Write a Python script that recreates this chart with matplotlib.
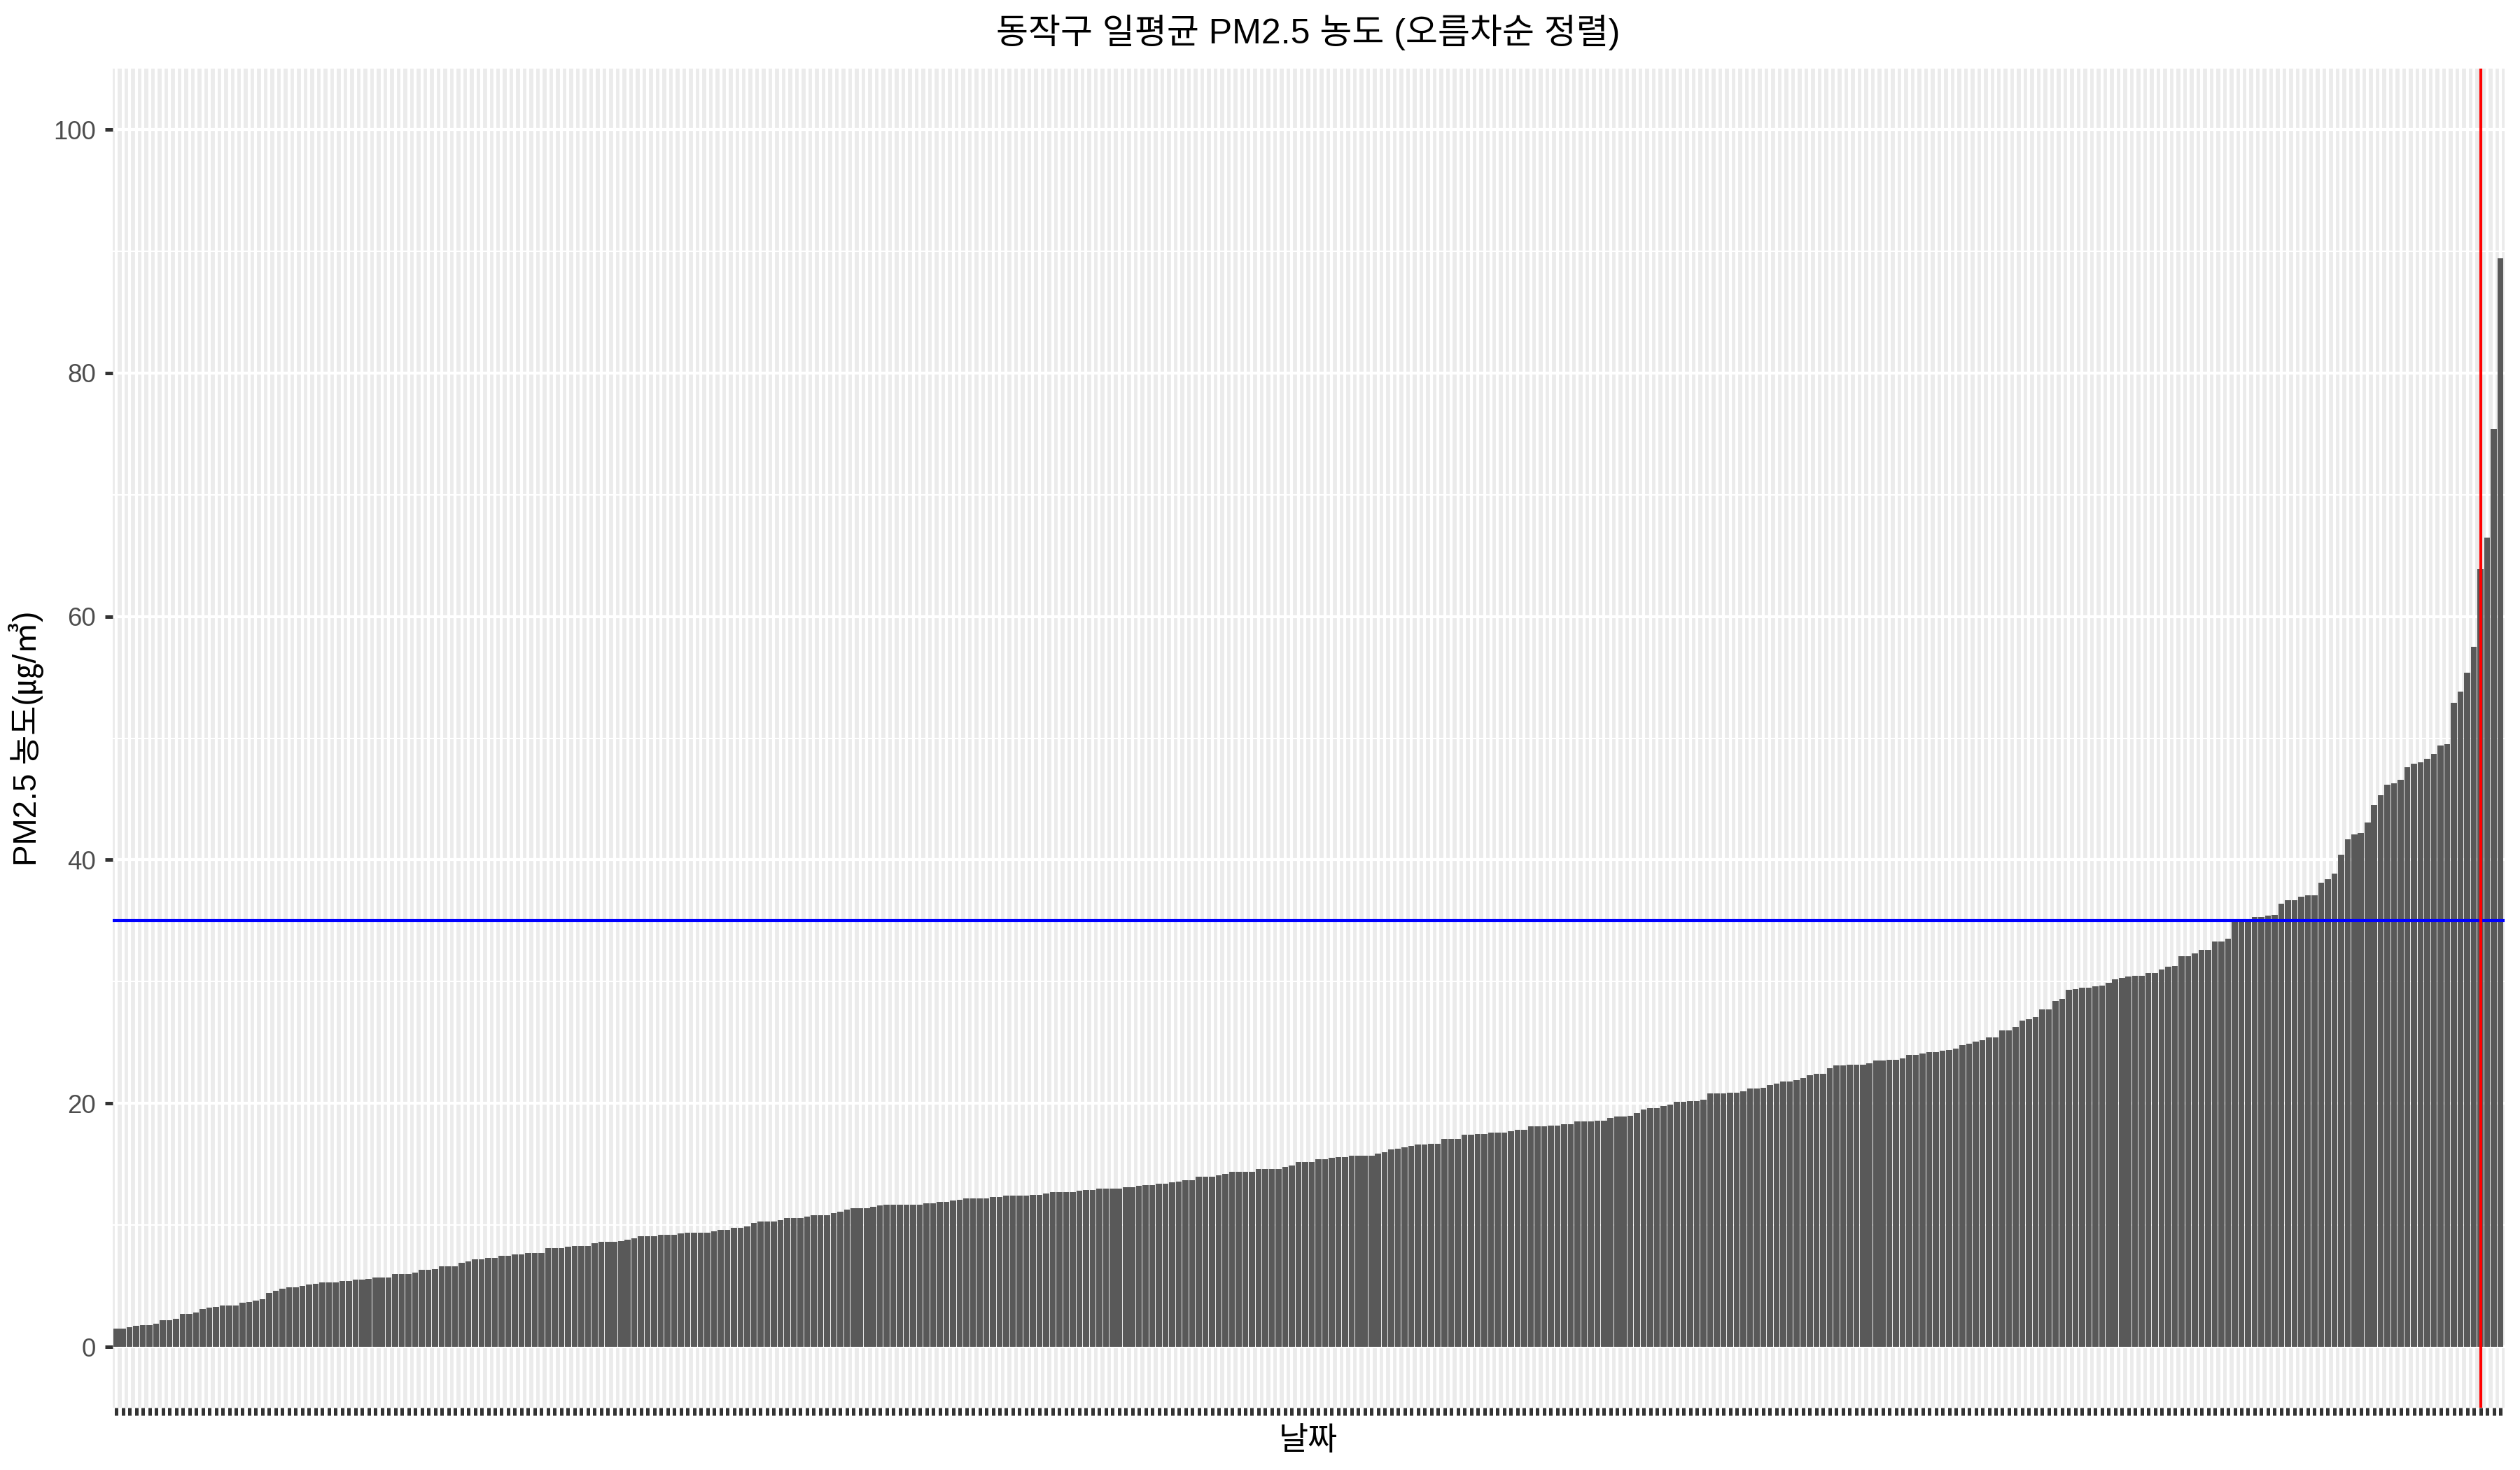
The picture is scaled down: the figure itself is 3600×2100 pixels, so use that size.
import matplotlib
matplotlib.use('Agg')
import matplotlib.pyplot as plt
import numpy as np

plt.rcParams['font.family'] = ['Liberation Sans', 'Noto Sans CJK KR', 'DejaVu Sans']

# daily mean PM2.5 (ug/m3), sorted ascending
pm25_sorted = [
    1.5, 1.5, 1.6, 1.7, 1.8, 1.8, 1.9, 2.2, 2.2, 2.3, 2.7, 2.7, 2.8, 3.1, 3.2, 3.3,
    3.4, 3.4, 3.4, 3.6, 3.7, 3.8, 3.9, 4.4, 4.6, 4.8, 4.9, 4.9, 5.0, 5.1, 5.2, 5.3,
    5.3, 5.3, 5.4, 5.4, 5.5, 5.5, 5.6, 5.7, 5.7, 5.7, 6.0, 6.0, 6.0, 6.1,
    6.3, 6.3, 6.4, 6.6, 6.6, 6.6, 6.9, 7.0, 7.2, 7.2, 7.3, 7.3, 7.5, 7.5, 7.6, 7.6,
    7.7, 7.7, 7.7, 8.1, 8.1, 8.1, 8.2, 8.3, 8.3, 8.3, 8.5, 8.6, 8.6, 8.6, 8.7, 8.8,
    8.9, 9.1, 9.1, 9.1, 9.2, 9.2, 9.2, 9.3, 9.4, 9.4, 9.4, 9.4,
    9.5, 9.6, 9.6, 9.8, 9.8, 9.9, 10.2, 10.3, 10.3, 10.3, 10.4, 10.6, 10.6, 10.6,
    10.7, 10.8, 10.8, 10.8, 11.0, 11.1, 11.3, 11.4, 11.4, 11.4, 11.5, 11.6, 11.7,
    11.7, 11.7, 11.7, 11.7, 11.7, 11.8, 11.8, 11.9, 11.9, 12.0, 12.1, 12.2, 12.2,
    12.2, 12.2, 12.3, 12.3, 12.4, 12.4,
    12.4, 12.4, 12.5, 12.5, 12.6, 12.7, 12.7, 12.7, 12.7, 12.8, 12.9, 12.9, 13.0,
    13.0, 13.0, 13.0, 13.1, 13.1, 13.2, 13.3, 13.3, 13.4, 13.4, 13.5, 13.6, 13.7,
    13.7, 14.0, 14.0, 14.0, 14.1, 14.2, 14.4, 14.4, 14.4, 14.4, 14.6, 14.6, 14.6,
    14.6, 14.8, 14.9, 15.2, 15.2, 15.2,
    15.4, 15.4, 15.5, 15.6, 15.6, 15.7, 15.7, 15.7, 15.7, 15.9, 16.0, 16.2, 16.3,
    16.4, 16.5, 16.6, 16.6, 16.7, 16.7, 17.1, 17.1, 17.1, 17.4, 17.4, 17.5, 17.5,
    17.6, 17.6, 17.6, 17.7, 17.8, 17.8, 18.1, 18.1, 18.1, 18.2, 18.2, 18.3, 18.3,
    18.5, 18.5, 18.5, 18.6, 18.6, 18.8, 18.9,
    18.9, 19.0, 19.2, 19.5, 19.6, 19.6, 19.8, 19.9, 20.1, 20.1, 20.2, 20.2, 20.3,
    20.8, 20.8, 20.8, 20.9, 20.9, 21.0, 21.2, 21.2, 21.3, 21.5, 21.6, 21.8, 21.8,
    21.9, 22.1, 22.3, 22.4, 22.4, 22.9, 23.1, 23.1, 23.2, 23.2, 23.2, 23.3, 23.5,
    23.5, 23.6, 23.6, 23.7, 24.0, 24.0,
    24.1, 24.2, 24.2, 24.3, 24.4, 24.5, 24.8, 24.9, 25.1, 25.2, 25.4, 25.4, 26.0,
    26.0, 26.3, 26.8, 26.9, 27.1, 27.7, 27.7, 28.4, 28.6, 29.3, 29.4, 29.5, 29.5,
    29.6, 29.7, 29.9, 30.2, 30.3, 30.4, 30.5, 30.5, 30.7, 30.7, 31.0, 31.2, 31.3,
    32.1, 32.1, 32.3, 32.6, 32.6,
    33.3, 33.3, 33.5, 35.0, 35.0, 35.1, 35.3, 35.3, 35.4, 35.5, 36.4, 36.7, 36.7,
    37.0, 37.1, 37.1, 38.1, 38.4, 38.9, 40.4, 41.7, 42.1, 42.2, 43.1, 44.5, 45.3,
    46.2, 46.3, 46.6, 47.6, 47.9, 48.0, 48.3, 48.7, 49.4, 49.5, 52.9, 53.8, 55.4,
    57.5, 63.9, 66.5, 75.4, 89.4,
]
standard = 35          # blue reference line
marker_rank = 357      # red vertical line (rank position)
y_ticks = [0, 20, 40, 60, 80, 100]
y_minor = [10, 30, 50, 70, 90]

title = '동작구 일평균 PM2.5 농도 (오름차순 정렬)'
x_title = '날짜'
y_title = 'PM2.5 농도(㎍/㎥)'

rank = np.arange(1, len(pm25_sorted) + 1)

fig = plt.figure(figsize=(12, 7), dpi=300)
ax = fig.add_axes([0.0446, 0.0424, 0.9492, 0.9109])
ax.set_facecolor('#EBEBEB')
for s in ax.spines.values():
    s.set_visible(False)
ax.set_axisbelow(True)

ax.bar(rank, pm25_sorted, width=0.9, color='#595959', zorder=2)
ax.axhline(standard, color='#0000FF', linewidth=1.0, zorder=3)
ax.axvline(marker_rank, color='#FF0000', linewidth=1.0, zorder=3)

ax.set_xlim(0.4, len(pm25_sorted) + 0.6)
ax.set_ylim(-5, 105)

ax.set_xticks(rank)
ax.set_xticklabels([])
ax.set_yticks(y_ticks)
ax.set_yticklabels([str(v) for v in y_ticks])
ax.set_yticks(y_minor, minor=True)

ax.grid(which='major', color='white', linewidth=1.0)
ax.grid(which='minor', axis='y', color='white', linewidth=0.5)
ax.tick_params(which='major', length=2.75, width=1.2, color='#333333',
               labelsize=8.8, labelcolor='#4D4D4D', pad=2.9)
ax.tick_params(which='minor', length=0)

ax.set_ylabel(y_title, fontsize=11, va='center')
ax.yaxis.set_label_coords(-0.036, 0.5)
fig.text(0.519, 0.0195, x_title, ha='center', va='center', fontsize=11)
fig.text(0.519, 0.978, title, ha='center', va='center', fontsize=12)

fig.savefig('out.png', dpi=300, facecolor='white')
